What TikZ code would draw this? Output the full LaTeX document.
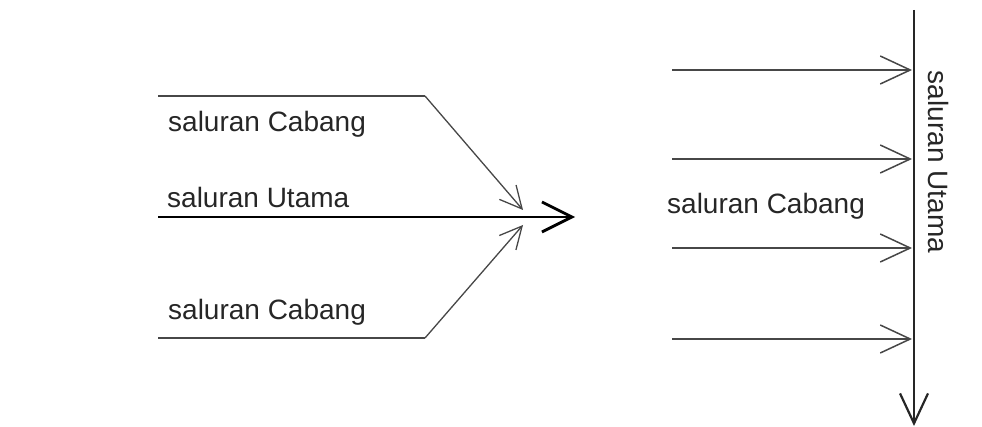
\documentclass[tikz,border=0pt]{standalone}
\usepackage{fontspec}
\setmainfont{Liberation Sans}
\usetikzlibrary{arrows.meta}
\begin{document}
\begin{tikzpicture}[x=1pt,y=-1pt,
  lbl/.style={font=\fontsize{28}{33}\selectfont, text=black!85, inner sep=0pt},
  branch/.style={draw=black!72, line width=2.2pt},
  diag/.style={draw=black!72, line width=1.3pt, -{Straight Barb[length=22pt,width=22pt]}},
  feed/.style={draw=black!72, line width=2.2pt, -{Straight Barb[length=30pt,width=28pt,line width=1.5pt]}},
  mainline/.style={draw=black, line width=2.8pt, -{Straight Barb[length=30pt,width=30pt]}},
  trunk/.style={draw=black!85, line width=2.2pt, -{Straight Barb[length=30pt,width=28pt]}}]
\useasboundingbox (0,0) rectangle (982,427);
% left junction
\coordinate (t0) at (158,96);
\coordinate (t1) at (425,96);
\coordinate (tt) at (523,210);
\coordinate (b0) at (158,338);
\coordinate (b1) at (425,338);
\coordinate (bt) at (523,225);
\coordinate (m0) at (158,217);
\coordinate (mt) at (575,217);
\draw[branch] (t0) -- (t1);
\draw[diag] (t1) -- (tt);
\draw[branch] (b0) -- (b1);
\draw[diag] (b1) -- (bt);
\draw[mainline] (m0) -- (mt);
\node[lbl, anchor=base west] (lc1) at (168,132) {saluran Cabang};
\node[lbl, anchor=base west] (lu) at (167,208) {saluran Utama};
\node[lbl, anchor=base west] (lc2) at (168,320) {saluran Cabang};
% right junction
\coordinate (v0) at (914,10);
\coordinate (v1) at (914,426);
\draw[trunk] (v0) -- (v1);
\foreach \i/\y in {1/70,2/159,3/248,4/339}{
  \coordinate (f\i) at (672,\y);
  \coordinate (g\i) at (912,\y);
  \draw[feed] (f\i) -- (g\i);
}
\node[lbl, anchor=base west] (rc) at (667,214) {saluran Cabang};
\node[lbl, rotate=-90] (ru) at (938,162) {saluran Utama};
\end{tikzpicture}
\end{document}
